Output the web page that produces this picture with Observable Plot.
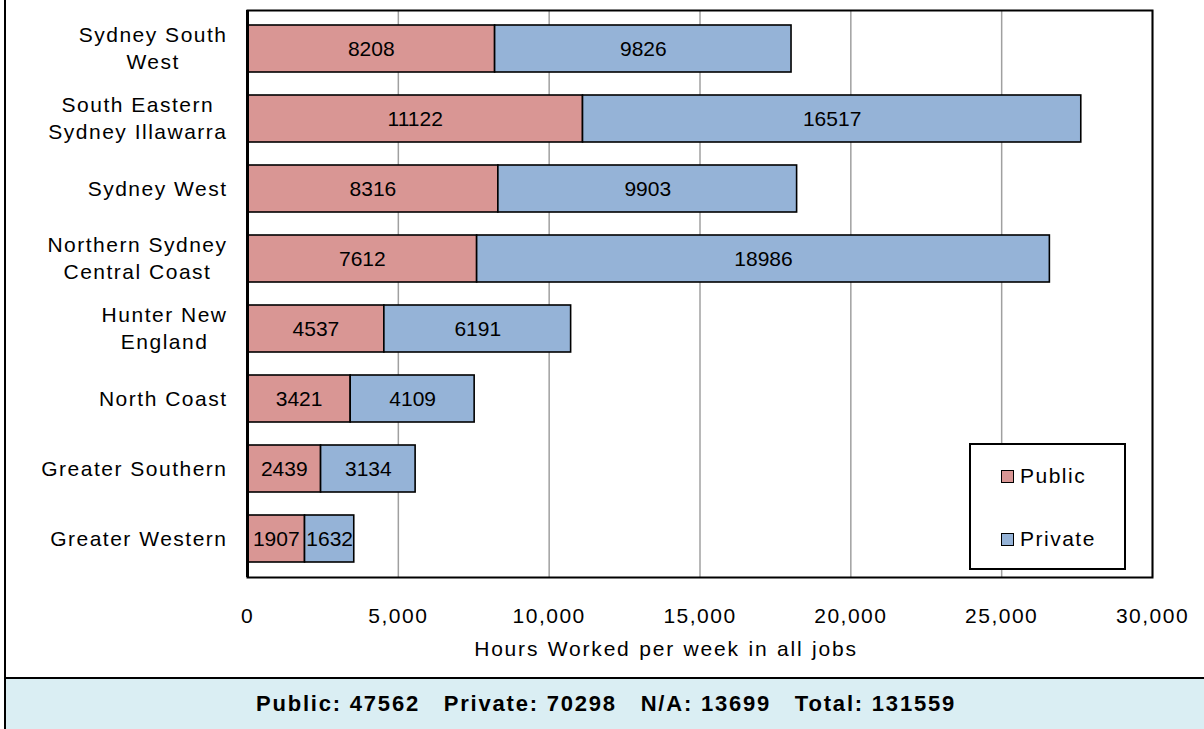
<!DOCTYPE html>
<html>
<head>
<meta charset="utf-8">
<script src="https://cdn.jsdelivr.net/npm/d3@7"></script>
<script src="https://cdn.jsdelivr.net/npm/@observablehq/plot@0.6"></script>
<style>
  html, body { margin: 0; padding: 0; background: #fff; overflow: hidden; }
  body { font-family: "Liberation Sans", Arial, sans-serif; }
  #wrap { position: relative; margin-left: 4px; border-left: 2px solid #000; width: 1200px; height: 729px; }
  #chart svg { display: block; }
  #chart g[aria-label="y-axis tick label"],
  #chart g[aria-label="x-axis tick label"] { letter-spacing: 1.5px; }
  #panel { border-top: 2px solid #000; height: 50px; background: #daeef3; text-align: center;
           font-weight: bold; font-size: 22px; letter-spacing: 1.8px; line-height: 50px; white-space: pre; color: #000; }
  #legend { position: absolute; left: 963px; top: 443px; width: 157px; height: 127px; box-sizing: border-box;
            border: 2px solid #000; background: #fff; font-size: 21px; letter-spacing: 1.5px; }
  .li { position: absolute; left: 30px; display: flex; align-items: center; }
  .sw { width: 13px; height: 13px; box-sizing: border-box; border: 1.5px solid #000; margin-right: 6px; }
</style>
</head>
<body>
<div id="wrap">
  <div id="chart"></div>
  <div id="panel"></div>
  <div id="legend"></div>
</div>
<script>
const regions = ["Sydney South West", "South Eastern Sydney Illawarra", "Sydney West", "Northern Sydney Central Coast", "Hunter New England", "North Coast", "Greater Southern", "Greater Western"];
const regionLabels = ["Sydney South\nWest", "South Eastern\nSydney Illawarra", "Sydney West", "Northern Sydney\nCentral Coast", "Hunter New\nEngland", "North Coast", "Greater Southern", "Greater Western"];
const publicHours = [8208, 11122, 8316, 7612, 4537, 3421, 2439, 1907];
const privateHours = [9826, 16517, 9903, 18986, 6191, 4109, 3134, 1632];
const seriesNames = ["Public", "Private"];
const seriesColors = ["#d99694", "#95b3d7"];
const xTicks = [0, 5000, 10000, 15000, 20000, 25000, 30000];
const xLabel = "Hours Worked per week in all jobs";
const summaryLabels = ["Public", "Private", "N/A", "Total"];
const summaryValues = [47562, 70298, 13699, 131559];

const data = [];
regions.forEach((r, i) => {
  data.push({region: r, type: seriesNames[0], value: publicHours[i]});
  data.push({region: r, type: seriesNames[1], value: privateHours[i]});
});
const labelOf = new Map(regions.map((r, i) => [r, regionLabels[i]]));

const chart = Plot.plot({
  width: 1198,
  height: 677,
  marginLeft: 241,
  marginRight: 52,
  marginTop: 10,
  marginBottom: 100,
  style: {fontFamily: "'Liberation Sans', Arial, sans-serif", fontSize: "21px", color: "#000", background: "#fff"},
  x: {domain: [0, 30000], axis: null},
  y: {domain: regions, paddingInner: 0.33, paddingOuter: 0.165, axis: null},
  color: {domain: seriesNames, range: seriesColors},
  marks: [
    Plot.gridX(xTicks, {stroke: "#a0a0a0", strokeWidth: 1.5, strokeOpacity: 1}),
    Plot.barX(data, Plot.stackX({x: "value", y: "region", fill: "type", stroke: "#000", strokeWidth: 1.6, order: null})),
    Plot.text(data, Plot.stackX({x: "value", y: "region", text: d => String(d.value), fill: "#000", fontSize: 21, order: null})),
    Plot.frame({stroke: "#000", strokeWidth: 2}),
    Plot.ruleX([0], {stroke: "#000", strokeWidth: 3}),
    Plot.axisX(xTicks, {tickSize: 0, tickPadding: 31, tickFormat: d3.format(","), fontSize: 21, label: null}),
    Plot.axisY({tickSize: 0, tickPadding: 20, dy: -2, tickFormat: r => labelOf.get(r), fontSize: 21, lineHeight: 1.3, label: null}),
    Plot.text([xLabel], {frameAnchor: "bottom", dy: 78, dx: -34, fontSize: 21, fill: "#000"})
  ]
});
document.getElementById("chart").append(chart);

// x-axis title spacing
chart.querySelectorAll("text").forEach(t => {
  if (t.textContent === xLabel) {
    t.style.letterSpacing = "1.8px";
    t.style.wordSpacing = "1px";
  }
});

// center multi-line category labels, keeping their right edge near the axis
chart.querySelectorAll('g[aria-label="y-axis tick label"] text').forEach(t => {
  if (t.querySelectorAll("tspan").length > 1) {
    const b = t.getBBox();
    t.setAttribute("text-anchor", "middle");
    const tr = t.getAttribute("transform") || "";
    t.setAttribute("transform", tr + ` translate(${b.x + b.width / 2},0)`);
  }
});

document.getElementById("panel").textContent =
  summaryLabels.map((l, i) => `${l}: ${summaryValues[i]}`).join("   ");

const legend = document.getElementById("legend");
seriesNames.forEach((name, i) => {
  const item = document.createElement("div");
  item.className = "li";
  item.style.top = (i === 0 ? 19 : 82) + "px";
  const sw = document.createElement("div");
  sw.className = "sw";
  sw.style.background = seriesColors[i];
  const tx = document.createElement("span");
  tx.textContent = name;
  item.append(sw, tx);
  legend.append(item);
});
</script>
</body>
</html>
